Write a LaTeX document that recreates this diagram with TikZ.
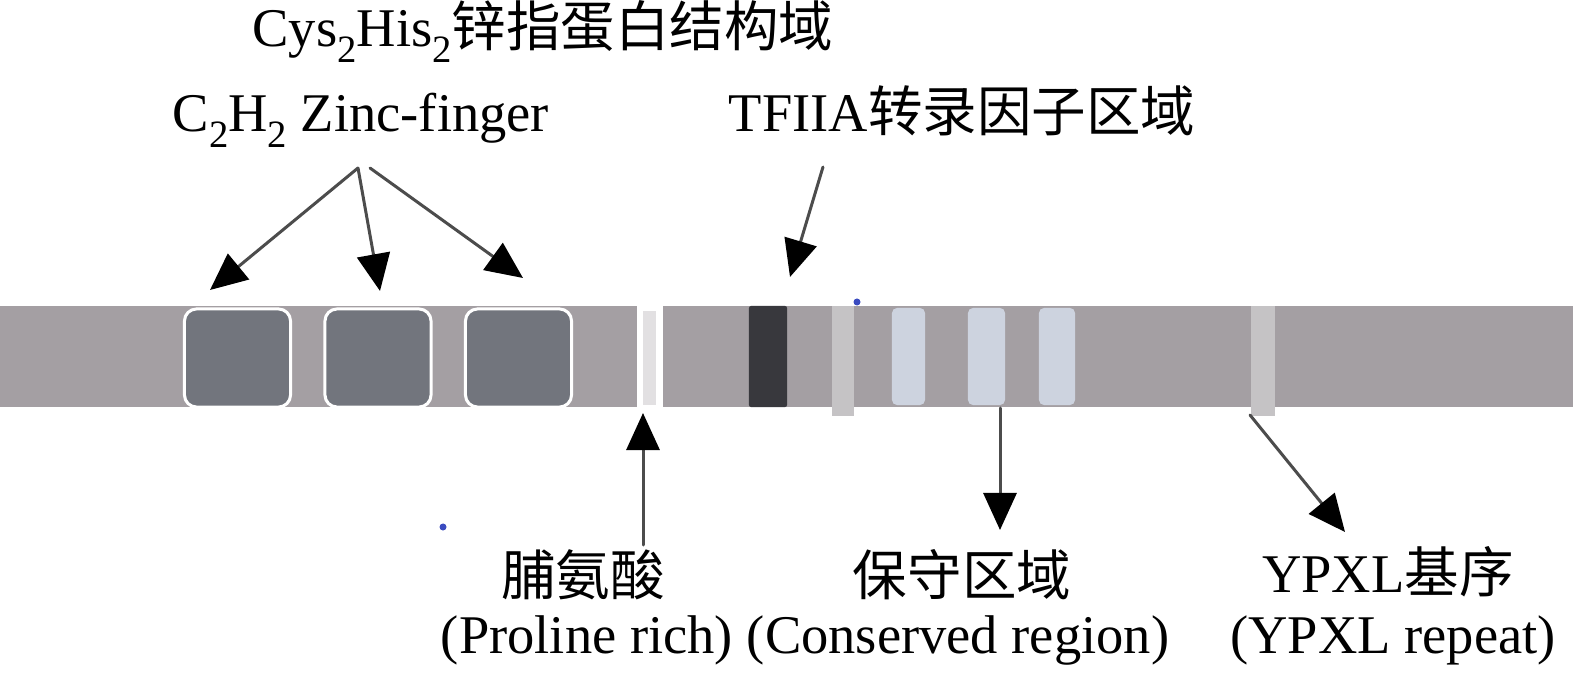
\documentclass[tikz,border=0pt]{standalone}
\usepackage{fontspec}
\setmainfont{Liberation Serif}
\newfontfamily\cjk{Noto Sans CJK SC}
\usetikzlibrary{arrows.meta}
\definecolor{barcol}{HTML}{A49FA3}
\definecolor{zfcol}{HTML}{72757D}
\definecolor{tfcol}{HTML}{38383D}
\definecolor{lgray}{HTML}{C5C3C5}
\definecolor{cblue}{HTML}{CDD3DF}
\definecolor{prolcol}{HTML}{E2E0E2}
\definecolor{dotblue}{HTML}{3A4BC0}
\newcommand{\sbtwo}{\raisebox{-0.28em}{\fontsize{11}{11}\selectfont 2}}
\begin{document}
\begin{tikzpicture}[x=0.01cm,y=-0.01cm,>={Triangle[length=0.37cm,width=0.33cm,color=black]}, line join=round, line cap=round,
  lbl/.style={anchor=base,inner sep=0pt,font=\fontsize{15.5}{18}\selectfont},
  zfbox/.style={fill=zfcol,draw=white,line width=0.03cm,rounded corners=0.12cm,minimum width=1.06cm,minimum height=0.98cm,inner sep=0pt},
  band/.style={inner sep=0pt,minimum width=#1},
  pointer/.style={->,line width=0.03cm,black!70}]
\useasboundingbox (0,0) rectangle (1575,673);
% protein bar
\fill[barcol] (0,306) rectangle (1573,407);
% zinc fingers
\node[zfbox] (zf1) at (237.5,358) {};
\node[zfbox] (zf2) at (378,358) {};
\node[zfbox] (zf3) at (518.5,358) {};
% proline rich
\fill[white] (637,304) rectangle (663,409);
\node[band=0.13cm,minimum height=0.94cm,fill=prolcol] (prol) at (649.5,358) {};
% TFIIA and small bands
\node[band=0.38cm,minimum height=1.01cm,fill=tfcol,rounded corners=0.02cm] (tf) at (768,356.5) {};
\node[band=0.22cm,minimum height=1.10cm,fill=lgray] (g1) at (843,361) {};
\node[band=0.33cm,minimum height=0.97cm,fill=cblue,rounded corners=0.05cm] (c1) at (908.5,356.5) {};
\node[band=0.37cm,minimum height=0.97cm,fill=cblue,rounded corners=0.05cm] (c2) at (986.5,356.5) {};
\node[band=0.36cm,minimum height=0.97cm,fill=cblue,rounded corners=0.05cm] (c3) at (1057,356.5) {};
\node[band=0.24cm,minimum height=1.10cm,fill=lgray] (yp) at (1263,361) {};
\fill[dotblue] (857,302) circle (0.035cm);
\fill[dotblue] (443,527) circle (0.035cm);
% labels
\node[lbl] (zfcn) at (543,47) {Cys\sbtwo His\sbtwo{\cjk 锌指蛋白结构域}};
\node[lbl] (zfen) at (361,132) {C\sbtwo H\sbtwo\ Zinc-finger};
\node[lbl] (tflbl) at (962,132) {TFIIA{\cjk 转录因子区域}};
\node[lbl] (prolcn) at (583,595) {{\cjk 脯氨酸}};
\node[lbl] (prolen) at (587,653) {(Proline rich)};
\node[lbl] (concn) at (962,595) {{\cjk 保守区域}};
\node[lbl] (conen) at (958,653) {(Conserved region)};
\node[lbl] (ypcn) at (1388,592) {YPXL{\cjk 基序}};
\node[lbl] (ypen) at (1393,653) {(YPXL repeat)};
% arrows
\coordinate (zfsrc) at (358,168);
\coordinate (zfsrcb) at (370,168);
\coordinate (zftip1) at (210,290);
\coordinate (zftip2) at (380,291);
\coordinate (zftip3) at (523,278);
\coordinate (tfsrc) at (823,167);
\coordinate (tftip) at (790,277);
\coordinate (prolsrc) at (643,545);
\coordinate (proltip) at (643,413);
\coordinate (consrc) at (1000,408);
\coordinate (contip) at (1000,530);
\coordinate (ypsrc) at (1250,415);
\coordinate (yptip) at (1345,532);
\draw[pointer] (zfsrc)--(zftip1);
\draw[pointer] (zfsrc)--(zftip2);
\draw[pointer] (zfsrcb)--(zftip3);
\draw[pointer] (tfsrc)--(tftip);
\draw[pointer] (prolsrc)--(proltip);
\draw[pointer] (consrc)--(contip);
\draw[pointer] (ypsrc)--(yptip);
\end{tikzpicture}
\end{document}
